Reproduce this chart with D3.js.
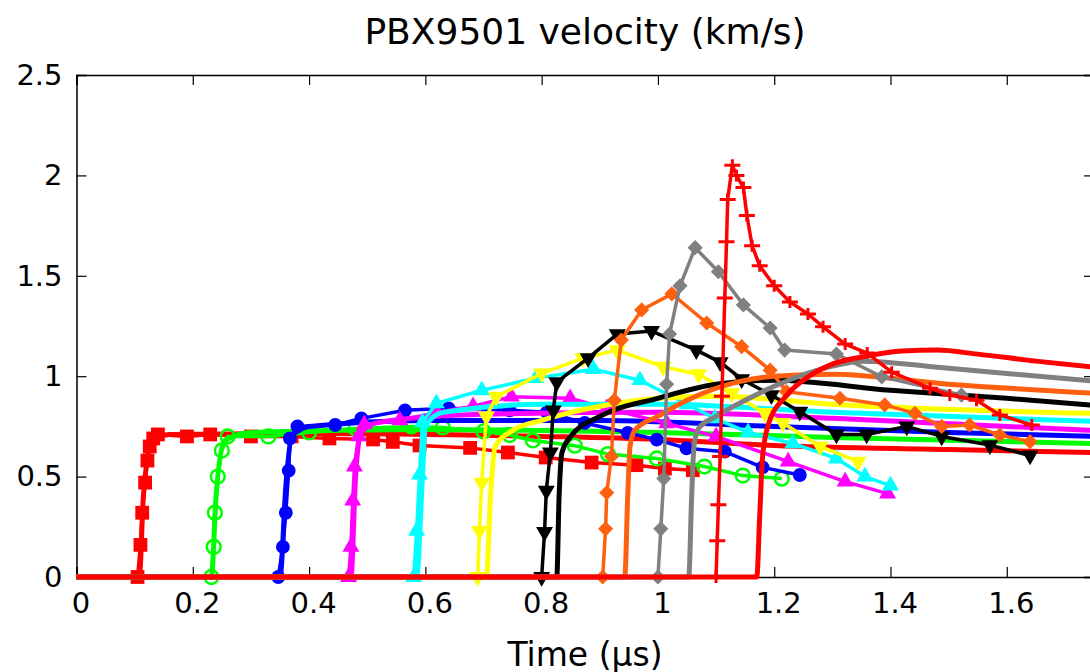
<!DOCTYPE html>
<html>
<head>
<meta charset="utf-8">
<script src="https://cdn.jsdelivr.net/npm/d3@7"></script>
<style>
body { margin: 0; background: #fff; overflow: hidden; }
text { font-family: "DejaVu Sans", sans-serif; fill: #000; }
</style>
</head>
<body>
<svg id="chart" width="1090" height="672"></svg>
<script>
// gauge traces: [time (us), velocity (km/s)]
// "meas" = the traces with big markers, "sim" = the thick plain traces
var xTicks = [0, 0.2, 0.4, 0.6, 0.8, 1, 1.2, 1.4, 1.6];
var yTicks = [0, 0.5, 1, 1.5, 2, 2.5];

var meas1 = [[0,0],[0.105,0],[0.11,0.16],[0.113,0.32],[0.118,0.47],[0.122,0.58],[0.126,0.65],[0.132,0.69],[0.14,0.71],[0.19,0.70],[0.23,0.71],[0.30,0.70],[0.37,0.70],[0.435,0.69],[0.51,0.685],[0.544,0.673],[0.59,0.655],[0.677,0.643],[0.742,0.62],[0.807,0.595],[0.886,0.57],[0.963,0.557],[1.012,0.54],[1.06,0.532]];
var sim1 = [[0,0],[0.108,0],[0.115,0.4],[0.13,0.68],[0.16,0.71],[0.4,0.715],[0.8,0.70],[1.0,0.685],[1.2,0.655],[1.5,0.635],[1.75,0.62]];

var meas2 = [[0,0],[0.232,0],[0.236,0.15],[0.238,0.32],[0.243,0.5],[0.25,0.63],[0.26,0.70],[0.33,0.70],[0.40,0.72],[0.48,0.74],[0.576,0.75],[0.63,0.745],[0.70,0.725],[0.745,0.707],[0.785,0.68],[0.857,0.654],[0.914,0.612],[0.998,0.59],[1.08,0.55],[1.146,0.505],[1.213,0.49]];
var sim2 = [[0,0],[0.232,0],[0.24,0.4],[0.255,0.68],[0.3,0.72],[0.6,0.735],[1.0,0.72],[1.3,0.695],[1.75,0.665]];

var meas3 = [[0,0],[0.347,0],[0.355,0.15],[0.36,0.32],[0.365,0.53],[0.367,0.69],[0.38,0.75],[0.445,0.757],[0.49,0.79],[0.565,0.83],[0.64,0.84],[0.745,0.83],[0.809,0.82],[0.874,0.767],[0.948,0.718],[0.998,0.684],[1.049,0.641],[1.115,0.624],[1.18,0.546],[1.244,0.508]];
var sim3 = [[0,0],[0.35,0],[0.36,0.45],[0.37,0.7],[0.40,0.75],[0.6,0.78],[0.9,0.78],[1.2,0.75],[1.5,0.72],[1.75,0.70]];

var meas4 = [[0,0],[0.468,0],[0.472,0.15],[0.475,0.38],[0.478,0.55],[0.485,0.70],[0.495,0.76],[0.556,0.78],[0.62,0.82],[0.682,0.85],[0.748,0.898],[0.849,0.89],[0.912,0.84],[1.015,0.765],[1.10,0.70],[1.224,0.575],[1.322,0.475],[1.395,0.415]];
var sim4 = [[0,0],[0.472,0],[0.48,0.5],[0.49,0.72],[0.52,0.77],[0.7,0.81],[1.0,0.82],[1.3,0.79],[1.75,0.73]];

var meas5 = [[0,0],[0.58,0],[0.585,0.23],[0.59,0.51],[0.595,0.77],[0.619,0.865],[0.697,0.93],[0.79,0.99],[0.889,1.035],[0.969,0.98],[1.05,0.86],[1.098,0.79],[1.155,0.72],[1.232,0.665],[1.307,0.59],[1.356,0.5],[1.40,0.455]];
var sim5 = [[0,0],[0.585,0],[0.595,0.5],[0.60,0.75],[0.63,0.82],[0.8,0.86],[1.0,0.86],[1.3,0.82],[1.75,0.775]];

var meas6 = [[0,0],[0.69,0],[0.693,0.23],[0.697,0.47],[0.705,0.80],[0.722,0.898],[0.80,1.014],[0.871,1.09],[0.93,1.13],[1.009,1.047],[1.07,1.01],[1.127,0.915],[1.184,0.817],[1.215,0.767],[1.279,0.65],[1.344,0.575]];
var sim6 = [[0,0],[0.705,0],[0.712,0.4],[0.72,0.65],[0.75,0.73],[0.8,0.78],[0.9,0.85],[1.0,0.89],[1.1,0.9],[1.3,0.86],[1.75,0.815]];

var meas7 = [[0,0],[0.80,0],[0.805,0.225],[0.808,0.43],[0.815,0.62],[0.82,0.83],[0.826,0.97],[0.88,1.09],[0.93,1.21],[0.989,1.225],[1.066,1.13],[1.107,1.07],[1.144,0.985],[1.195,0.906],[1.244,0.823],[1.307,0.71],[1.359,0.71],[1.428,0.75],[1.488,0.70],[1.571,0.657],[1.64,0.605]];
var sim7 = [[0,0],[0.826,0],[0.83,0.4],[0.835,0.62],[0.85,0.70],[0.9,0.80],[1.0,0.89],[1.1,0.96],[1.2,0.98],[1.4,0.93],[1.6,0.89],[1.75,0.855]];

var meas8 = [[0,0],[0.905,0],[0.91,0.24],[0.912,0.42],[0.92,0.6],[0.925,0.88],[0.937,1.18],[0.972,1.33],[1.024,1.41],[1.084,1.265],[1.144,1.147],[1.193,1.03],[1.221,0.923],[1.313,0.89],[1.39,0.857],[1.442,0.815],[1.488,0.75],[1.536,0.757],[1.588,0.707],[1.64,0.674]];
var sim8 = [[0,0],[0.943,0],[0.948,0.4],[0.952,0.65],[0.96,0.73],[1.0,0.8],[1.05,0.88],[1.1,0.94],[1.2,1.0],[1.3,1.01],[1.5,0.96],[1.75,0.915]];

var meas9 = [[0,0],[1.0,0],[1.005,0.24],[1.01,0.49],[1.015,0.96],[1.02,1.21],[1.038,1.45],[1.064,1.64],[1.104,1.52],[1.147,1.355],[1.193,1.24],[1.218,1.13],[1.307,1.11],[1.385,0.997],[1.522,0.906]];
var sim9 = [[0,0],[1.053,0],[1.058,0.4],[1.062,0.65],[1.07,0.74],[1.1,0.8],[1.15,0.88],[1.2,0.95],[1.3,1.05],[1.35,1.075],[1.5,1.04],[1.75,0.975]];

var meas10 = [[0,0],[1.10,0],[1.102,0.18],[1.104,0.36],[1.107,0.6],[1.11,0.9],[1.115,1.39],[1.118,1.67],[1.12,1.88],[1.128,2.05],[1.135,2.0],[1.147,1.94],[1.153,1.80],[1.162,1.65],[1.175,1.55],[1.2,1.45],[1.227,1.37],[1.258,1.31],[1.284,1.246],[1.322,1.16],[1.36,1.115],[1.402,1.02],[1.468,0.94],[1.502,0.906],[1.548,0.88],[1.588,0.807],[1.643,0.757]];
var sim10 = [[0,0],[1.17,0],[1.175,0.3],[1.18,0.6],[1.19,0.76],[1.22,0.9],[1.26,1.0],[1.3,1.06],[1.36,1.1],[1.42,1.125],[1.48,1.13],[1.55,1.11],[1.65,1.075],[1.75,1.045]];

var gauges = [
    {meas: meas1, sim: sim1, color: "#ff0000", marker: "square"},
    {meas: meas2, sim: sim2, color: "#00ff00", marker: "opencircle"},
    {meas: meas3, sim: sim3, color: "#0000ff", marker: "circle"},
    {meas: meas4, sim: sim4, color: "#ff00ff", marker: "triup"},
    {meas: meas5, sim: sim5, color: "#00ffff", marker: "triup"},
    {meas: meas6, sim: sim6, color: "#ffff00", marker: "tridown"},
    {meas: meas7, sim: sim7, color: "#000000", marker: "tridown"},
    {meas: meas8, sim: sim8, color: "#ff6010", marker: "diamond"},
    {meas: meas9, sim: sim9, color: "#808080", marker: "diamond"},
    {meas: meas10, sim: sim10, color: "#ff0000", marker: "plus"}
];

var svg = d3.select("#chart");

// plot box edges (the right edge sits just past the window)
var plotLeft = 76.5, plotRight = 1094, plotTop = 75, plotBottom = 577;

var x = d3.scaleLinear().domain([0, 1.75]).range([plotLeft, plotRight]);
var y = d3.scaleLinear().domain([0, 2.5]).range([plotBottom, plotTop]);

// title
svg.append("text")
    .attr("x", 585)
    .attr("y", 44)
    .attr("text-anchor", "middle")
    .style("font-size", "36px")
    .text("PBX9501 velocity (km/s)");

svg.append("text")
    .attr("x", 585)
    .attr("y", 666)
    .attr("text-anchor", "middle")
    .style("font-size", "33px")
    .text("Time (µs)");

// frame with inward ticks on all four sides
var fmt = d3.format("~g");

var gx = svg.append("g")
    .attr("transform", "translate(0," + plotBottom + ")")
    .call(d3.axisBottom(x).tickValues(xTicks).tickSize(-10).tickPadding(15).tickFormat(fmt));
var gxTop = svg.append("g")
    .attr("transform", "translate(0," + plotTop + ")")
    .call(d3.axisTop(x).tickValues(xTicks).tickSize(-10).tickFormat(""));
var gy = svg.append("g")
    .attr("transform", "translate(" + plotLeft + ",0)")
    .call(d3.axisLeft(y).tickValues(yTicks).tickSize(-10).tickPadding(14).tickFormat(fmt));
var gyRight = svg.append("g")
    .attr("transform", "translate(" + plotRight + ",0)")
    .call(d3.axisRight(y).tickValues(yTicks).tickSize(-10).tickFormat(""));

[gx, gxTop, gy, gyRight].forEach(function(g) {
    g.select(".domain").attr("stroke", "#000").attr("stroke-width", 1.5);
    g.selectAll(".tick line").attr("stroke", "#000").attr("stroke-width", 1.2);
    g.selectAll(".tick text")
        .style("font-family", "'DejaVu Sans', sans-serif")
        .style("font-size", "29px")
        .attr("fill", "#000");
});
// the x labels sit a little right of their ticks in the reference
gx.selectAll(".tick text").attr("dx", 4);

var plot = svg.append("g");

var simLine = d3.line()
    .x(function(d) { return x(d[0]); })
    .y(function(d) { return y(d[1]); })
    .curve(d3.curveMonotoneX);

var measLine = d3.line()
    .x(function(d) { return x(d[0]); })
    .y(function(d) { return y(d[1]); });

var markerPath = function(kind) {
    if (kind == "square") return d3.symbol(d3.symbolSquare, 190)();
    if (kind == "circle" || kind == "opencircle") return d3.symbol(d3.symbolCircle, 150)();
    if (kind == "triup" || kind == "tridown") return d3.symbol(d3.symbolTriangle, 125)();
    if (kind == "diamond") return d3.symbol(d3.symbolSquare, 115)();
    return "M-8,0H8M0,-6V6";
};

var markerRotation = function(kind) {
    if (kind == "tridown") return 180;
    if (kind == "diamond") return 45;
    return 0;
};

gauges.forEach(function(g) {
    plot.append("path")
        .datum(g.sim)
        .attr("d", simLine)
        .attr("fill", "none")
        .attr("stroke", g.color)
        .attr("stroke-width", 5)
        .attr("stroke-linejoin", "round");

    plot.append("path")
        .datum(g.meas)
        .attr("d", measLine)
        .attr("fill", "none")
        .attr("stroke", g.color)
        .attr("stroke-width", 3.5)
        .attr("stroke-linejoin", "round");

    // no marker on the leading zero-baseline point
    plot.selectAll(null)
        .data(g.meas.slice(1))
        .enter()
        .append("path")
        .attr("d", markerPath(g.marker))
        .attr("transform", function(d) {
            return "translate(" + x(d[0]) + "," + y(d[1]) + ") rotate(" + markerRotation(g.marker) + ")";
        })
        .attr("fill", function() {
            if (g.marker == "opencircle" || g.marker == "plus") return "none";
            return g.color;
        })
        .attr("stroke", g.color)
        .attr("stroke-width", g.marker == "opencircle" ? 2.5 : (g.marker == "plus" ? 3 : 0));
});
</script>
</body>
</html>
